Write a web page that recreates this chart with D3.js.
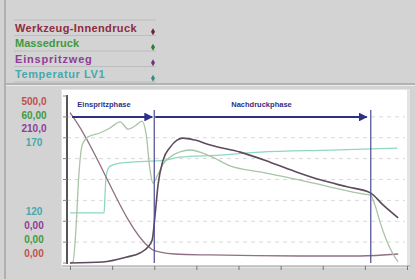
<!DOCTYPE html>
<html>
<head>
<meta charset="utf-8">
<script src="https://cdn.jsdelivr.net/npm/d3@7.9.0/dist/d3.min.js"></script>
<style>
  html, body { margin: 0; padding: 0; background: #d3d3d3; }
  svg { display: block; font-family: "Liberation Sans", Arial, sans-serif; }
</style>
</head>
<body>
<svg id="chart" width="415" height="279"></svg>
<script>
// series names and colours (legend order)
const seriesNames = ['Werkzeug-Innendruck', 'Massedruck', 'Einspritzweg', 'Temperatur LV1'];
const textColors = ['#8e2b3e', '#3f9a3f', '#8e3d96', '#45a9ad'];
const lineColors = ['#5e4b5c', '#a9c4a6', '#8f7084', '#8fd6c4'];

// left scale labels (top and bottom of each series)
const topLabels = ['500,0', '60,00', '210,0', '170'];
const bottomLabels = ['120', '0,00', '0,00', '0,00'];
const topLabelColors = ['#c0504d', '#3f9a3f', '#8e3d96', '#45a9ad'];
const bottomLabelColors = ['#45a9ad', '#8e3d96', '#3f9a3f', '#c0504d'];

// value domain per series
const domains = [[0, 500], [0, 60], [0, 210], [120, 170]];

// time axis (s)
const timeTicks = [0, 1, 2, 3, 4, 5, 6, 7, 8];
const phaseNames = ['Einspritzphase', 'Nachdruckphase'];
const phaseBounds = [0.05, 2.0, 7.14];

// [t, value]
const werkzeug = [
  [0, 0], [0.78, 3], [1.35, 18], [1.66, 30], [1.85, 48], [1.95, 69], [2.02, 144],
  [2.09, 234], [2.21, 308], [2.38, 347], [2.54, 368], [2.68, 374], [2.97, 368],
  [3.33, 353], [4.04, 332], [4.75, 302], [5.39, 272], [5.94, 249], [6.58, 228],
  [7.13, 210], [7.43, 174], [7.79, 135]
];
const massedruck = [
  [0, 0], [0.07, 0.4], [0.14, 11.9], [0.21, 31.6], [0.29, 42.4], [0.43, 45.3],
  [0.71, 46.7], [0.95, 48.5], [1.19, 50.7], [1.38, 48.1], [1.54, 49.2], [1.71, 51.0],
  [1.81, 46.0], [1.90, 33.4], [1.97, 28.7], [2.07, 31.3], [2.21, 35.6], [2.38, 38.1],
  [2.61, 39.9], [2.85, 40.6], [3.33, 38.4], [3.80, 34.9], [4.51, 32.7], [5.46, 29.8],
  [6.18, 27.3], [6.96, 24.8], [7.13, 24.4], [7.24, 20.8], [7.36, 14.7], [7.51, 8.3],
  [7.67, 3.2], [7.79, 0.4]
];
const einspritzweg = [
  [0, 189], [0.12, 180], [1.90, 19], [1.97, 16.3], [2.14, 13.8], [2.49, 11.3],
  [3.33, 10.1], [5.46, 8.8], [6.89, 8.8], [7.79, 11.3]
];
const temperatur = [
  [0, 135.0], [0.81, 135.0], [0.83, 140.0], [0.86, 146.3], [0.95, 149.0], [1.19, 149.9],
  [1.90, 150.5], [2.26, 150.8], [2.61, 151.7], [3.56, 152.3], [4.51, 153.2],
  [6.18, 153.8], [7.77, 154.4]
];
const seriesData = [werkzeug, massedruck, einspritzweg, temperatur];

const svg = d3.select('#chart');

// window frame
svg.append('line').attr('x1', 5).attr('x2', 5).attr('y1', 0).attr('y2', 279)
  .attr('stroke', '#a4a4a4').attr('stroke-width', 1.5);
svg.append('line').attr('x1', 6).attr('x2', 415).attr('y1', 84).attr('y2', 84)
  .attr('stroke', '#a8a8a8').attr('stroke-width', 1.5);
svg.append('line').attr('x1', 6).attr('x2', 415).attr('y1', 85.5).attr('y2', 85.5)
  .attr('stroke', '#ececec').attr('stroke-width', 1);

// legend
const legendY = d3.scaleBand().domain(seriesNames).range([20, 82]);
const legend = svg.append('g');
legend.selectAll('line.sep')
  .data(d3.range(seriesNames.length + 1))
  .join('line')
  .attr('class', 'sep')
  .attr('x1', 14).attr('x2', 156)
  .attr('y1', (i) => 20 + i * legendY.step())
  .attr('y2', (i) => 20 + i * legendY.step())
  .attr('stroke', '#bdbdbd');
legend.selectAll('text')
  .data(seriesNames)
  .join('text')
  .attr('x', 15)
  .attr('y', (d) => legendY(d) + legendY.bandwidth() / 2 + 4)
  .attr('fill', (d, i) => textColors[i])
  .attr('font-size', 11)
  .attr('font-weight', 'bold')
  .attr('textLength', (d) => d.length * 6.4)
  .text((d) => d);
legend.selectAll('path')
  .data(seriesNames)
  .join('path')
  .attr('d', d3.symbol(d3.symbolDiamond, 14))
  .attr('transform', (d) => `translate(153,${legendY(d) + legendY.bandwidth() / 2 + 4})`)
  .attr('fill', (d, i) => d3.color(textColors[i]).darker(0.6));

// plot panel
const x = d3.scaleLinear().domain([0, 8]).range([70, 407]);
const grid = d3.scaleLinear().domain([0, 8]).range([263, 96]);
const yScales = domains.map((dm) => d3.scaleLinear().domain(dm).range([263, 96]));

svg.append('rect').attr('x', 61).attr('y', 89).attr('width', 349).attr('height', 179)
  .attr('fill', '#e4e4e4');
svg.append('rect').attr('x', 62).attr('y', 90).attr('width', 345).attr('height', 176)
  .attr('fill', '#ffffff');

// grid
svg.append('g').selectAll('line')
  .data(d3.range(1, 8))
  .join('line')
  .attr('x1', 67).attr('x2', 405)
  .attr('y1', (d) => grid(d)).attr('y2', (d) => grid(d))
  .attr('stroke', '#d9d9d9').attr('stroke-dasharray', '4,4');

// left axis
svg.append('line').attr('x1', 67).attr('x2', 67).attr('y1', 95).attr('y2', 264)
  .attr('stroke', '#555').attr('stroke-width', 2);
svg.append('g').selectAll('line')
  .data(d3.range(0, 9))
  .join('line')
  .attr('x1', 63).attr('x2', 67)
  .attr('y1', (d) => grid(d)).attr('y2', (d) => grid(d))
  .attr('stroke', '#888');

// bottom axis
const xAxis = svg.append('g').attr('transform', 'translate(0,266)')
  .call(d3.axisBottom(x).tickValues(timeTicks).tickSize(4).tickFormat(''));
xAxis.select('.domain').attr('stroke', '#9a9a9a').attr('d', 'M62,0H410');
xAxis.selectAll('.tick line').attr('stroke', '#777');

// curves
svg.append('clipPath').attr('id', 'clip')
  .append('rect').attr('x', 68).attr('y', 90).attr('width', 338).attr('height', 176);
const lineGroup = svg.append('g').attr('clip-path', 'url(#clip)');
const drawOrder = [3, 2, 1, 0];
drawOrder.forEach((i) => {
  const line = d3.line().curve(d3.curveMonotoneX)
    .x((d) => x(d[0]))
    .y((d) => yScales[i](d[1]));
  lineGroup.append('path')
    .datum(seriesData[i])
    .attr('d', line)
    .attr('fill', 'none')
    .attr('stroke', lineColors[i])
    .attr('stroke-width', i === 0 ? 1.6 : 1.3);
});

// phases
const navy = '#2f2f86';
svg.append('defs').append('marker')
  .attr('id', 'arrow').attr('viewBox', '0 0 10 10').attr('refX', 9).attr('refY', 5)
  .attr('markerWidth', 4).attr('markerHeight', 4).attr('orient', 'auto')
  .append('path').attr('d', 'M0,0L10,5L0,10Z').attr('fill', navy);
svg.append('g').selectAll('line')
  .data(phaseBounds.slice(1))
  .join('line')
  .attr('x1', (d) => x(d)).attr('x2', (d) => x(d))
  .attr('y1', 110).attr('y2', 263)
  .attr('stroke', '#4a4a90').attr('stroke-width', 1.2);
svg.append('g').selectAll('line')
  .data(phaseNames)
  .join('line')
  .attr('x1', (d, i) => x(phaseBounds[i]) + (i ? 1 : 0))
  .attr('x2', (d, i) => x(phaseBounds[i + 1]) - (i ? 4 : 2))
  .attr('y1', 117).attr('y2', 117)
  .attr('stroke', navy).attr('stroke-width', 2.2)
  .attr('marker-end', 'url(#arrow)');
svg.append('g').selectAll('text')
  .data(phaseNames)
  .join('text')
  .attr('x', (d, i) => i ? (x(phaseBounds[i]) + x(phaseBounds[i + 1])) / 2 - 1 : 104)
  .attr('y', 107)
  .attr('text-anchor', 'middle')
  .attr('fill', navy)
  .attr('font-size', 7.5)
  .attr('font-weight', 'bold')
  .text((d) => d);

// left value labels
svg.append('g').selectAll('text')
  .data(topLabels)
  .join('text')
  .attr('x', 34).attr('y', (d, i) => 105 + i * 13.5)
  .attr('text-anchor', 'middle')
  .attr('fill', (d, i) => topLabelColors[i])
  .attr('font-size', 10).attr('font-weight', 'bold')
  .text((d) => d);
svg.append('g').selectAll('text')
  .data(bottomLabels)
  .join('text')
  .attr('x', 34).attr('y', (d, i) => 215 + i * 14)
  .attr('text-anchor', 'middle')
  .attr('fill', (d, i) => bottomLabelColors[i])
  .attr('font-size', 10).attr('font-weight', 'bold')
  .text((d) => d);
</script>
</body>
</html>
